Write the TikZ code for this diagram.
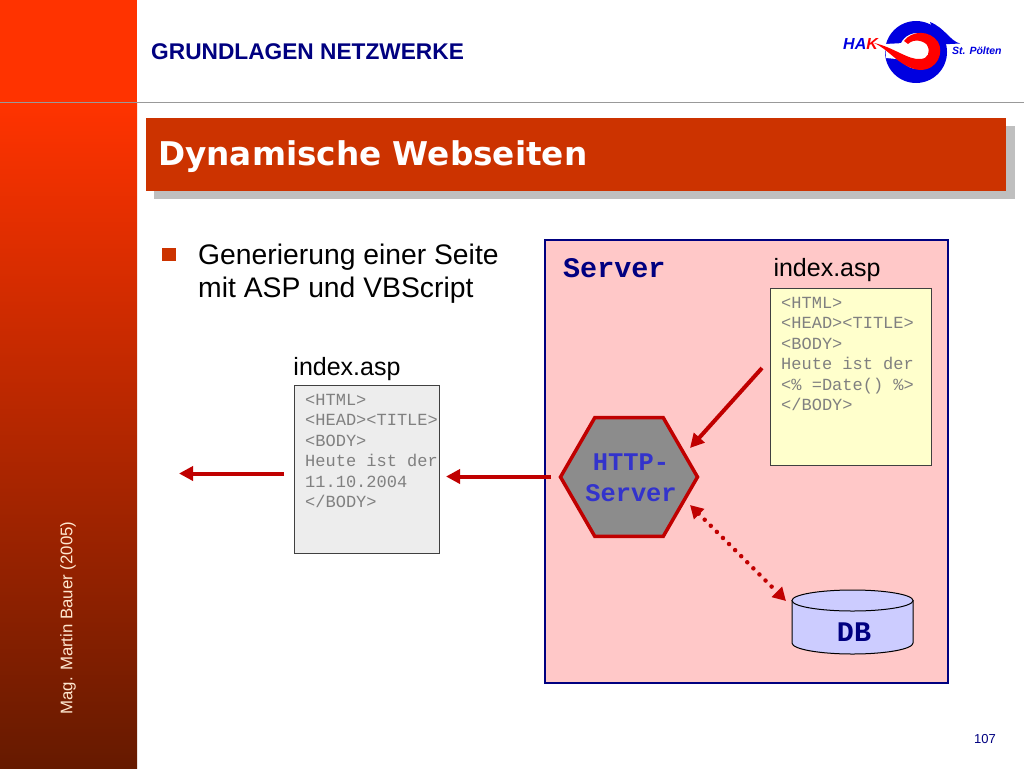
\documentclass[tikz,border=0pt]{standalone}
\usepackage{fontspec}
\setmainfont{Liberation Sans}
\setmonofont{Liberation Mono}
\newfontfamily\titlefont{DejaVu Sans}
\usetikzlibrary{arrows.meta}
\usetikzlibrary{shapes}
\definecolor[named]{HakOrange}{HTML}{FF3300}
\definecolor[named]{HakDark}{HTML}{661A00}
\definecolor[named]{HakTitle}{HTML}{CC3300}
\definecolor[named]{HakRed}{HTML}{C00000}
\definecolor[named]{HakNavy}{HTML}{000080}
\definecolor[named]{HakBlue}{HTML}{3333CC}
\definecolor[named]{HakLogo}{HTML}{0000E0}
\definecolor[named]{ServerPink}{HTML}{FFC8C8}
\definecolor[named]{NoteYellow}{HTML}{FFFFCC}
\definecolor[named]{DbBlue}{HTML}{CCCCFF}
\definecolor[named]{AuthorCream}{HTML}{FFE8D0}
\newcommand{\pxfont}[2]{\fontsize{#1}{#2}\selectfont}
\tikzset{
  listing/.style={draw=black!75,line width=1.2pt,anchor=north west,inner sep=0pt},
  listingtext/.style={anchor=north west,align=left,inner sep=0pt,text=black!50,font=\ttfamily\pxfont{17}{20.5}},
  filelabel/.style={font=\pxfont{25}{30},text=black,inner sep=0pt},
  redarrow/.style={HakRed,line width=4pt,-{Triangle[length=14pt,width=14pt]}},
}
\begin{document}
\begin{tikzpicture}[x=1pt,y=-1pt]
  \useasboundingbox (0,0) rectangle (1024,768);
  \fill[white] (0,0) rectangle (1024,768);

  % Frame
  \shade[top color=HakOrange,bottom color=HakDark] (0,102) rectangle (137,768);
  \fill[HakOrange] (0,0) rectangle (137,102);
  \draw[gray!80,line width=1pt] (0,102.5) -- (1024,102.5);
  \node[rotate=90,text=AuthorCream,font=\pxfont{16.8}{18},inner sep=0pt] (author) at (68,618) {Mag. Martin Bauer (2005)};
  \node[text=HakNavy,font=\bfseries\pxfont{22.7}{26},inner sep=0pt,anchor=west] (chapter) at (151,52) {GRUNDLAGEN NETZWERKE};
  \node[text=HakNavy,font=\pxfont{13}{16},inner sep=0pt] (page) at (985,739) {107};

  % Logo
  \fill[HakLogo,even odd rule] (916,52) circle[radius=31pt] (917,51) circle[radius=18pt];
  \fill[HakLogo] (930,22) .. controls (945,28) and (950,41) .. (960,43.5) -- (940,44.5) -- (934,34) -- cycle;
  \fill[white] (885,44) -- (904,43) -- (906,60) -- (886,58) -- cycle;
  \fill[red] (874,43) .. controls (890,50) and (900,68) .. (920,70)
    .. controls (938,70) and (944,52) .. (938,42) .. controls (930,30) and (912,30) .. (904,41)
    -- (908,44) .. controls (914,38) and (924,41) .. (927,45)
    .. controls (931,52) and (928,59) .. (920,59) .. controls (908,60) and (893,47) .. (874,43) -- cycle;
  \node[text=HakLogo,font=\bfseries\itshape\pxfont{16}{18},inner sep=0pt,anchor=west] (hak) at (843,44) {HA\textcolor{red}{K}};
  \node[text=HakLogo,font=\bfseries\itshape\pxfont{10.5}{12},inner sep=0pt,anchor=west] (town) at (952,51) {St. Pölten};

  % Title
  \fill[black!25] (154,126) rectangle (1015,199);
  \node[fill=HakTitle,minimum width=860pt,minimum height=73pt,anchor=north west,inner sep=0pt] (titlebar) at (146,118) {};
  \node[text=white,font=\titlefont\bfseries\pxfont{32.7}{36},inner sep=0pt,anchor=west] (title) at (158,157) {Dynamische Webseiten};

  % Bullet
  \fill[HakTitle] (162,248) rectangle (176,261);
  \node[anchor=north west,align=left,inner sep=0pt,text=black,font=\pxfont{28.3}{33.5}] (bullet) at (198,243.5)
    {Generierung einer Seite\\mit ASP und VBScript};

  % Server
  \node[draw=HakNavy,fill=ServerPink,line width=2pt,minimum width=403pt,minimum height=443pt,
    anchor=north west,inner sep=0pt] (server) at (544,238.5) {};
  \node[font=\ttfamily\bfseries\pxfont{28.4}{30},text=HakNavy,inner sep=0pt,anchor=west] (srvlabel) at (563,268) {Server};
  \node[filelabel] (asplabel) at (827,270) {index.asp};
  \node[listing,fill=NoteYellow,minimum width=161pt,minimum height=177pt] (srvfile) at (770,287.5) {};
  \node[listingtext] (srvtext) at (781,297)
    {<HTML>\\<HEAD><TITLE>\\<BODY>\\Heute ist der\\<\% =Date() \%>\\</BODY>};

  % Client file
  \node[filelabel] (clientlabel) at (347,369) {index.asp};
  \node[listing,fill=black!7,minimum width=145pt,minimum height=168.5pt] (clientfile) at (294,384.5) {};
  \node[listingtext] (clienttext) at (305,394)
    {<HTML>\\<HEAD><TITLE>\\<BODY>\\Heute ist der\\11.10.2004\\</BODY>};

  % HTTP server
  \node[regular polygon,regular polygon sides=6,draw=HakRed,fill=black!45,line width=3.5pt,
    minimum size=137pt,inner sep=0pt] (http) at (629,477) {};
  \node[align=center,inner sep=0pt,text=HakBlue,font=\ttfamily\bfseries\pxfont{25.4}{31}] (httptext) at (631,478) {HTTP-\\Server};

  % DB
  \path[draw=black,fill=DbBlue,line width=1pt] (792,600.5) -- (792,643)
    arc[start angle=180,end angle=360,x radius=60.5pt,y radius=11pt] -- (913,600.5) -- cycle;
  \draw[black,fill=DbBlue,line width=1pt] (852.5,600.5) ellipse[x radius=60.5pt,y radius=10.5pt];
  \node[font=\ttfamily\bfseries\pxfont{28.4}{30},text=HakNavy,inner sep=0pt] (db) at (854,632) {DB};

  % Arrows
  \coordinate (fromfile) at (762,368);
  \coordinate (tohttp) at (690,448);
  \coordinate (hexleft) at (551,476.5);
  \coordinate (toclient) at (446,476.5);
  \coordinate (clientleft) at (284,473.5);
  \coordinate (away) at (179,473.5);
  \coordinate (dbtop) at (786,601);
  \coordinate (hexbottom) at (690,505);
  \draw[redarrow] (fromfile) -- (tohttp);
  \draw[redarrow] (hexleft) -- (toclient);
  \draw[redarrow] (clientleft) -- (away);
  \draw[HakRed,line width=4.5pt,line cap=round,dash pattern=on 0pt off 8.6pt,
    {Triangle[length=13pt,width=14pt]}-{Triangle[length=13pt,width=14pt]}] (hexbottom) -- (dbtop);
\end{tikzpicture}
\end{document}
